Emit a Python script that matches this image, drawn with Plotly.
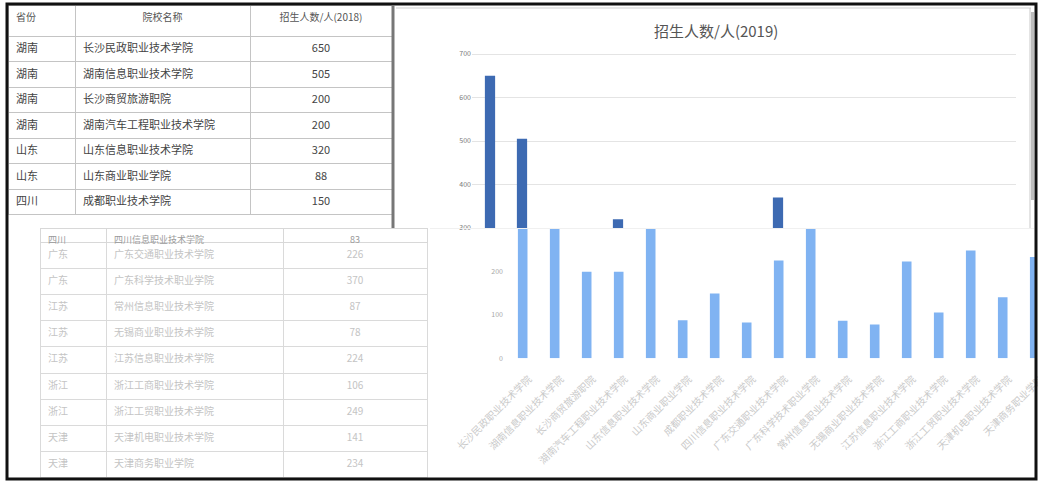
import plotly.graph_objects as go

# ---------------- data ----------------
table_headers = ["省份", "院校名称", "招生人数/人(2018)"]
chart_title = "招生人数/人(2019)"
provinces = ["湖南", "湖南", "湖南", "湖南", "山东", "山东", "四川", "四川",
             "广东", "广东", "江苏", "江苏", "江苏", "浙江", "浙江", "天津", "天津"]
schools = ["长沙民政职业技术学院", "湖南信息职业技术学院", "长沙商贸旅游职院",
           "湖南汽车工程职业技术学院", "山东信息职业技术学院", "山东商业职业学院",
           "成都职业技术学院", "四川信息职业技术学院", "广东交通职业技术学院",
           "广东科学技术职业学院", "常州信息职业技术学院", "无锡商业职业技术学院",
           "江苏信息职业技术学院", "浙江工商职业技术学院", "浙江工贸职业技术学院",
           "天津机电职业技术学院", "天津商务职业学院"]
students = [650, 505, 200, 200, 320, 88, 150, 83, 226, 370, 87, 78, 224, 106, 249, 141, 234]
top_ticks = [300, 400, 500, 600, 700]
bottom_ticks = [0, 100, 200]

# ---------------- geometry helpers ----------------
W, H = 1038, 482
FONT = "Noto Sans CJK SC"


def fx(px):
    return px / W


def fy(py):
    return 1 - py / H


TOP_ROWS = 7

fig = go.Figure()

# upper (sharp) table
fig.add_trace(go.Table(
    domain=dict(x=[fx(8), fx(392)], y=[fy(228), fy(5)]),
    columnwidth=[67, 175, 142],
    header=dict(values=table_headers, height=31,
                align=["left", "center", "center"],
                font=dict(family=FONT, size=10, color="#555555"),
                fill_color="white", line_color="#c4c4c4"),
    cells=dict(values=[provinces[:TOP_ROWS], schools[:TOP_ROWS],
                       [str(v) for v in students[:TOP_ROWS]]],
               height=25.5, align=["left", "left", "center"],
               font=dict(family=FONT, size=11, color="#444444"),
               fill_color="white", line_color="#c4c4c4"),
))

# lower (faded, shifted) table
fig.add_trace(go.Table(
    domain=dict(x=[fx(40), fx(427)], y=[fy(478), fy(228)]),
    columnwidth=[66, 177, 144],
    header=dict(values=[provinces[TOP_ROWS], schools[TOP_ROWS], str(students[TOP_ROWS])],
                height=14, align=["left", "left", "center"],
                font=dict(family=FONT, size=9, color="#9a9a9a"),
                fill_color="white", line_color="#d8d8d8"),
    cells=dict(values=[provinces[TOP_ROWS + 1:], schools[TOP_ROWS + 1:],
                       [str(v) for v in students[TOP_ROWS + 1:]]],
               height=26.2, align=["left", "left", "center"],
               font=dict(family=FONT, size=10, color="#c4c4c4"),
               fill_color="white", line_color="#dadada"),
))

# upper (dark) bars
fig.add_trace(go.Bar(x=schools, y=students, xaxis="x", yaxis="y",
                     marker=dict(color="#3d6ab2", line=dict(width=0)),
                     width=0.32, showlegend=False, hoverinfo="x+y"))
# lower (light, shifted) bars
fig.add_trace(go.Bar(x=schools, y=students, xaxis="x2", yaxis="y2",
                     marker=dict(color="#80b3f2", line=dict(width=0)),
                     width=0.3, showlegend=False, hoverinfo="x+y"))

line_dark = dict(color="#111111", width=3)
shapes = [
    # outer black frame
    dict(type="rect", xref="paper", yref="paper", x0=fx(7), x1=fx(1036),
         y0=fy(479), y1=fy(4), line=line_dark),
    # separator between upper table and chart
    dict(type="line", xref="paper", yref="paper", x0=fx(393), x1=fx(393),
         y0=fy(228), y1=fy(5), line=dict(color="#777777", width=3)),
    # chart box (upper)
    dict(type="line", xref="paper", yref="paper", x0=fx(396), x1=fx(1031),
         y0=fy(8), y1=fy(8), line=dict(color="#cfcfcf", width=1)),
    dict(type="line", xref="paper", yref="paper", x0=fx(1030), x1=fx(1030),
         y0=fy(228), y1=fy(8), line=dict(color="#c8c8c8", width=1)),
    # scrollbar-like strip at the right
    dict(type="rect", xref="paper", yref="paper", x0=fx(1031), x1=fx(1034),
         y0=fy(200), y1=fy(12), line=dict(width=0), fillcolor="#bdbdbd"),
    # seam between the two halves on the chart side
    dict(type="line", xref="paper", yref="paper", x0=fx(430), x1=fx(1034),
         y0=fy(228.5), y1=fy(228.5), line=dict(color="#f0f0f0", width=1)),
]

fig.update_layout(
    width=W, height=H,
    margin=dict(l=0, r=0, t=0, b=0),
    paper_bgcolor="white", plot_bgcolor="white",
    font=dict(family=FONT),
    showlegend=False,
    bargap=0.68,
    shapes=shapes,
    annotations=[dict(text=chart_title, xref="paper", yref="paper",
                      x=fx(716), y=fy(30), xanchor="center", yanchor="middle",
                      showarrow=False, font=dict(family=FONT, size=15, color="#555555"))],
    xaxis=dict(domain=[fx(472), fx(1016)], range=[-0.5625, 16.4375], type="category",
               anchor="y", showticklabels=False, showgrid=False, showline=False,
               zeroline=False, ticks="", fixedrange=True),
    yaxis=dict(domain=[fy(228), fy(44)], range=[300, 723], anchor="x",
               tickvals=top_ticks, tickfont=dict(family=FONT, size=7, color="#7a7a7a"),
               showgrid=True, gridcolor="#e4e4e4", gridwidth=1, zeroline=False,
               showline=False, ticks="", fixedrange=True, automargin=False),
    xaxis2=dict(domain=[fx(504), fx(1036)], range=[-0.584, 16.04], type="category",
                anchor="y2", tickangle=-45, ticklabelstandoff=12, ticklabelshift=6,
                tickfont=dict(family=FONT, size=10, color="#cacaca"),
                showgrid=False, showline=False, zeroline=False, ticks="",
                fixedrange=True, automargin=False),
    yaxis2=dict(domain=[fy(358.3), fy(228.5)], range=[0, 300], anchor="x2",
                tickvals=bottom_ticks, tickfont=dict(family=FONT, size=7, color="#a8a8a8"),
                showgrid=False, zeroline=False, showline=False, ticks="",
                fixedrange=True, automargin=False),
)

fig.write_html("out.html", config={"displayModeBar": False},
               post_script="document.body.style.margin='0';document.body.style.overflow='hidden';")
